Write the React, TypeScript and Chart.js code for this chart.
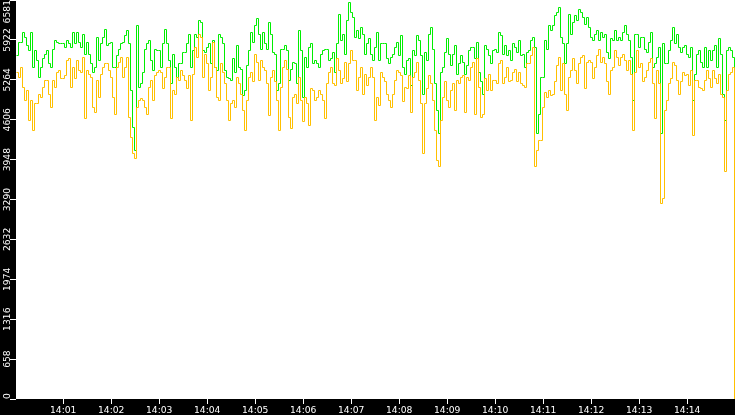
import { useEffect, useRef } from 'react';
import { Chart, registerables } from 'chart.js';

Chart.register(...registerables);

// samples every 2.5 s, seconds after 14:00:00
const FIRST_SEC = 1;
const STEP_SEC = 2.5;
const X_MIN = 1;
const X_MAX = 899.75;

const MINUTE_TICKS = [60, 120, 180, 240, 300, 360, 420, 480, 540, 600, 660, 720, 780, 840];
const Y_TICKS = [0, 658, 1316, 1974, 2632, 3290, 3948, 4606, 5264, 5922, 6581];
const Y_MAX = 6581;

const green = [
  5660, 5880, 5880, 6050, 5970, 5830, 5750, 6050, 5470, 5750, 5580, 5310, 5470, 5610, 5690, 5750, 5530, 5470, 5770, 5910, 5880, 5860, 5870,
  5860, 5800, 5920, 5860, 5800, 6040, 5860, 6050, 5880, 5800, 6020, 5690, 5880, 5690, 5530, 5390, 5470, 5970, 5580, 5860, 5970, 6100,
  5830, 5860, 5880, 5470, 5470, 5660, 5770, 5860, 5880, 5990, 6080, 5860, 5090, 4480, 4100, 6160, 5140, 5200, 5390, 5770, 5860, 5910, 5580,
  5420, 5770, 5750, 5750, 5470, 5860, 6100, 5860, 5580, 5200, 5690, 5470, 5310, 5530, 5530, 5720, 5720, 5860, 6020, 5470, 5750, 6020,
  5970, 6240, 6210, 5750, 5720, 5800, 5860, 5530, 5910, 5470, 5420, 6020, 5970, 5860, 5420, 5310, 5280, 5250, 5610, 5390, 5830, 5470, 5440,
  5010, 5090, 5500, 5750, 6050, 5880, 6160, 6270, 6020, 5770, 6050, 5860, 5770, 6210, 6020, 5720, 5690, 5090, 5200, 5770, 5770, 5830,
  5750, 5250, 5440, 5550, 5530, 5200, 6080, 5750, 4980, 5640, 5470, 5800, 5860, 5530, 5580, 5530, 5470, 5690, 5750, 5770, 5770, 5580, 5610,
  5720, 5390, 5860, 6350, 5910, 6020, 5690, 6240, 6540, 6380, 6290, 5970, 6080, 5940, 6130, 6020, 5690, 5860, 5940, 5690, 5580, 5800,
  6050, 5580, 5860, 5860, 5860, 5610, 5530, 5640, 5690, 5800, 5880, 5660, 5990, 5470, 5360, 5580, 5610, 5170, 5750, 5660, 5990, 5910, 5660,
  5030, 5720, 5580, 6020, 6130, 5770, 5200, 4760, 4380, 5390, 5470, 5720, 5940, 5690, 5500, 5690, 5830, 5360, 5530, 5660, 5550, 5360,
  5500, 5750, 5800, 5800, 5610, 5880, 5390, 5230, 5030, 5830, 5770, 5660, 5530, 5750, 5770, 5720, 6050, 5990, 5690, 5830, 5660, 5750, 5580,
  5860, 5800, 5720, 5910, 5660, 5690, 5470, 5720, 5750, 5910, 5970, 5800, 4380, 4700, 5310, 5310, 5910, 5770, 6160, 6080, 6160, 6320,
  6380, 6460, 5970, 5860, 5530, 5860, 6350, 6020, 6210, 6320, 6240, 6430, 6380, 6290, 6180, 6290, 6130, 5970, 5910, 6020, 6080, 5910, 6050,
  5970, 6020, 5720, 5610, 5940, 5910, 6080, 5910, 5970, 5910, 6050, 6160, 6020, 5910, 5640, 4920, 6020, 6020, 5800, 5970, 5970, 5770,
  5720, 5880, 6050, 5470, 5530, 5640, 5800, 4380, 5860, 5530, 5530, 5750, 5910, 6130, 5860, 6020, 5800, 5720, 5800, 5830, 5690, 5640,
  5800, 4920, 5360, 5690, 5750, 5550, 5470, 5800, 5470, 5750, 5580, 5750, 5830, 5470, 5940, 5690, 5030, 4590, 5750, 5800, 5750, 5640,
];

const orange = [
  5390, 5310, 5470, 5140, 4920, 5090, 4590, 4920, 4430, 4870, 4870, 5030, 4980, 5140, 5250, 5250, 5030, 4810, 5250, 5140, 5390, 5420, 5280,
  5280, 5330, 5580, 5610, 5140, 5470, 5280, 5580, 5420, 5390, 5640, 4620, 5420, 5360, 5310, 4810, 4730, 5250, 4980, 5360, 5470, 5530,
  5530, 5420, 5310, 4980, 4700, 5470, 5550, 5640, 5310, 5470, 5640, 4650, 4320, 4050, 3960, 4810, 4920, 4950, 4920, 4810, 4700, 5140, 5250,
  4920, 5330, 5390, 5420, 5390, 5120, 5310, 5470, 5470, 4620, 5090, 5030, 5310, 5250, 5420, 5330, 5250, 5120, 5330, 4590, 5360, 5800,
  5640, 6020, 5970, 5310, 5690, 5530, 5090, 5310, 5880, 5470, 4980, 4920, 5530, 5390, 5200, 4920, 4590, 4870, 4920, 4810, 5310, 5200, 5030,
  4760, 4430, 4920, 5310, 5390, 5230, 5690, 5550, 5250, 5580, 5470, 5420, 5200, 4680, 5310, 5420, 5230, 4920, 4430, 5140, 5470, 5580,
  5440, 4650, 4460, 4980, 5030, 4870, 5310, 4920, 4570, 4980, 4870, 4510, 5120, 5090, 4920, 4980, 5090, 5030, 4920, 4620, 5200, 5390, 5470,
  5200, 5170, 5610, 5420, 5200, 5280, 5550, 5230, 5530, 5750, 5580, 5580, 5090, 5310, 5470, 5030, 5360, 5170, 5310, 5470, 5310, 4590,
  4980, 4840, 5390, 5310, 5230, 5030, 4920, 4810, 5030, 5250, 5420, 5390, 5330, 4900, 5140, 5120, 5330, 4730, 5310, 5390, 5550, 5250, 4870,
  4050, 4870, 5120, 5330, 5200, 4920, 4430, 3940, 3830, 4590, 4980, 5230, 4920, 4810, 5090, 5200, 4760, 5250, 5200, 5310, 5330, 4730,
  5310, 5250, 5470, 5550, 4700, 5610, 5140, 4650, 4700, 5280, 5090, 5360, 5090, 5250, 5250, 5200, 5530, 5580, 5200, 5310, 5470, 5230, 5250,
  5390, 5440, 5230, 5390, 5200, 5170, 5140, 5530, 5530, 5660, 5800, 3830, 4100, 4270, 4270, 4810, 5060, 4980, 5090, 5010, 5030, 5230,
  5500, 5640, 5090, 5530, 5030, 4760, 5310, 5420, 5610, 5420, 5200, 5530, 5640, 5660, 5120, 5550, 5580, 5550, 5280, 5470, 5660, 5770, 5550,
  5640, 5530, 5230, 5030, 5420, 5470, 5750, 5640, 5500, 5640, 5690, 5580, 5420, 5580, 5360, 4430, 5390, 5750, 5470, 5530, 5230, 5310,
  5420, 5550, 5610, 5200, 4620, 5420, 5200, 3220, 3310, 4760, 4920, 5200, 5280, 5550, 5500, 5250, 5030, 5230, 5390, 5330, 5360, 5170,
  5420, 4350, 5250, 5250, 5140, 5120, 5090, 5250, 5420, 5280, 5140, 5420, 5280, 5200, 5360, 5030, 4980, 3760, 5090, 5360, 5390, 5470,
];

// the last samples, where both series fall off at the right edge
const END_TIMES = [898.5, 899.75];
const END_GREEN = [2750, 2750];
const END_ORANGE = [0, 0];

const FONT = 'DejaVu Sans';

function toPoints(values: number[], endValues: number[]) {
  const pts = values.map((v, i) => ({ x: FIRST_SEC + i * STEP_SEC, y: v }));
  END_TIMES.forEach((t, i) => pts.push({ x: t, y: endValues[i] }));
  return pts;
}

// keeps the 1px step lines on pixel centres so they stay crisp
const snapPlugin = {
  id: 'snap',
  beforeDatasetsDraw(chart: any) {
    chart.data.datasets.forEach((_: any, i: number) => {
      chart.getDatasetMeta(i).data.forEach((p: any) => {
        p.x = Math.floor(p.x + 1e-6) + 0.5;
        p.y = Math.floor(p.y + 1e-6) + 0.5;
      });
    });
  },
};

const framePlugin = {
  id: 'frame',
  beforeDraw(chart: any) {
    const { ctx, chartArea: a, width, height } = chart;
    ctx.save();
    ctx.fillStyle = '#000';
    ctx.fillRect(0, 0, width, height);
    ctx.fillStyle = '#fff';
    ctx.fillRect(a.left, a.top, a.right - a.left, a.bottom - a.top);
    ctx.restore();
  },
  afterDraw(chart: any) {
    const { ctx, chartArea: a } = chart;
    const y = chart.scales.y;
    ctx.save();
    ctx.font = `9.2px "${FONT}"`;
    ctx.fillStyle = '#fff';
    ctx.textAlign = 'center';
    ctx.textBaseline = 'alphabetic';
    Y_TICKS.forEach((v) => {
      const label = String(v);
      const half = ctx.measureText(label).width / 2;
      const py = Math.min(Math.max(y.getPixelForValue(v), a.top + half), a.bottom - half);
      ctx.save();
      ctx.translate(9.5, py);
      ctx.rotate(-Math.PI / 2);
      ctx.fillText(label, 0, 0);
      ctx.restore();
    });
    ctx.restore();
  },
};

export default function App() {
  const canvasRef = useRef<HTMLCanvasElement>(null);
  const chartRef = useRef<Chart | null>(null);

  useEffect(() => {
    if (!canvasRef.current) return;
    const ctx = canvasRef.current.getContext('2d');
    if (!ctx) return;

    chartRef.current?.destroy();
    chartRef.current = new Chart(ctx, {
      type: 'line',
      data: {
        datasets: [
          {
            label: 'orange',
            data: toPoints(orange, END_ORANGE),
            borderColor: '#ffc000',
            borderWidth: 1,
            pointRadius: 0,
            stepped: true,
            fill: false,
          },
          {
            label: 'green',
            data: toPoints(green, END_GREEN),
            borderColor: '#00ee00',
            borderWidth: 1,
            pointRadius: 0,
            stepped: true,
            fill: false,
          },
        ],
      },
      options: {
        animation: false,
        responsive: true,
        maintainAspectRatio: false,
        devicePixelRatio: 1,
        layout: { padding: 0 },
        plugins: {
          legend: { display: false },
          tooltip: { enabled: false },
        },
        scales: {
          x: {
            type: 'linear',
            min: X_MIN,
            max: X_MAX,
            afterBuildTicks: (s: any) => { s.ticks = MINUTE_TICKS.map((value) => ({ value })); },
            afterFit: (s: any) => { s.height = 16; },
            border: { display: false },
            grid: { display: true, drawOnChartArea: false, drawTicks: true, tickLength: 5, color: '#fff' },
            ticks: {
              color: '#fff',
              font: { family: FONT, size: 9.2 },
              padding: 1,
              autoSkip: false,
              maxRotation: 0,
              minRotation: 0,
              callback: (v: any) => '14:' + String(Math.round(Number(v) / 60)).padStart(2, '0'),
            },
          },
          y: {
            type: 'linear',
            min: 0,
            max: Y_MAX,
            afterBuildTicks: (s: any) => { s.ticks = Y_TICKS.map((value) => ({ value })); },
            afterFit: (s: any) => { s.width = 16; },
            border: { display: false },
            grid: { display: true, drawOnChartArea: false, drawTicks: true, tickLength: 6, color: '#fff' },
            ticks: { display: false },
          },
        },
      },
      plugins: [snapPlugin, framePlugin],
    });

    return () => { chartRef.current?.destroy(); chartRef.current = null; };
  }, []);

  return (
    <div style={{ position: 'fixed', left: 0, top: 0, width: 735, height: 415, background: '#000' }}>
      <canvas ref={canvasRef} />
    </div>
  );
}
